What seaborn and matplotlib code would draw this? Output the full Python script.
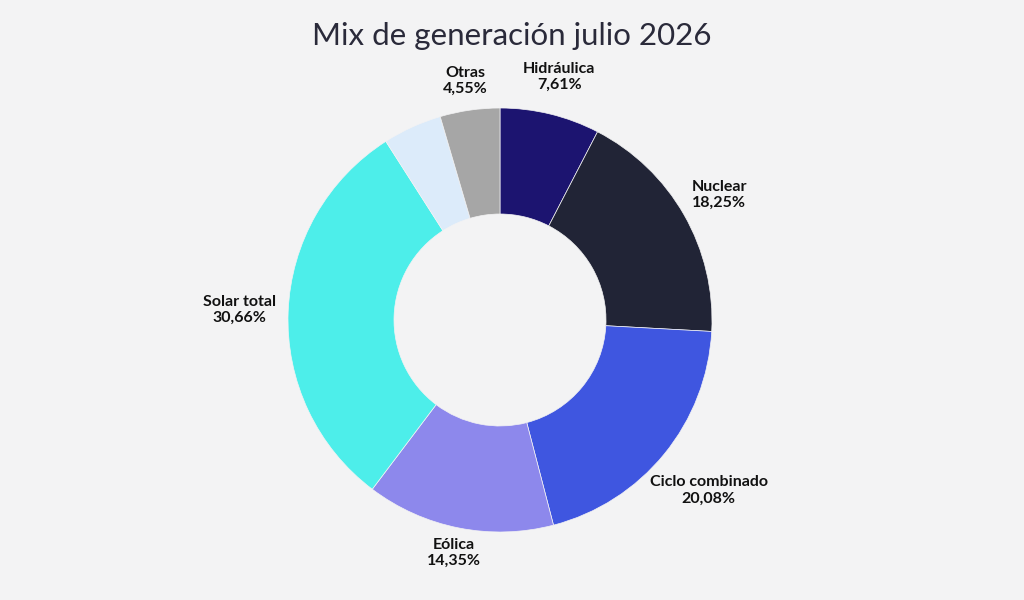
import numpy as np
import seaborn as sns
import matplotlib.pyplot as plt

# datos
fuentes = ["Hidráulica", "Nuclear", "Ciclo combinado", "Eólica", "Solar total", "", "Otras"]
porcentajes = [7.61, 18.25, 20.08, 14.35, 30.66, 4.50, 4.55]
colores = ["#1c1470", "#212436", "#3f56e0", "#8d88ec", "#4deeea", "#dcebfa", "#a6a6a6"]
dist_etiqueta = [1.18, 1.19, 1.27, 1.12, 1.23, 1.18, 1.14]

fondo = "#f3f3f4"
sns.set_theme(style="white")
plt.rcParams['font.family'] = ['Lato', 'DejaVu Sans']

fig = plt.figure(figsize=(10.24, 6), dpi=100, facecolor=fondo)
ax = fig.add_axes([0, 0, 1, 1])
ax.set_facecolor(fondo)

r_px = 212
wedges, _ = ax.pie(porcentajes, colors=colores, startangle=90, counterclock=False,
                   radius=1, wedgeprops=dict(width=0.5, edgecolor=fondo, linewidth=0.5))

# etiquetas
for w, nombre, valor, d in zip(wedges, fuentes, porcentajes, dist_etiqueta):
    if not nombre:
        continue
    ang = np.deg2rad((w.theta1 + w.theta2) / 2)
    x, y = d * np.cos(ang), d * np.sin(ang)
    texto = f"{nombre}\n{valor:.2f}%".replace(".", ",")
    ax.text(x, y, texto, ha="center", va="center", fontsize=11.5, fontweight="bold",
            color="#111111", linespacing=1.2)

ax.set_xlim(-500 / r_px, 524 / r_px)
ax.set_ylim(-280 / r_px, 320 / r_px)
ax.axis("off")

fig.text(0.5, 0.94, "Mix de generación julio 2026", ha="center", va="center",
         fontsize=22.5, color="#2a2a3a")

fig.savefig("out.png", dpi=100, facecolor=fondo)
